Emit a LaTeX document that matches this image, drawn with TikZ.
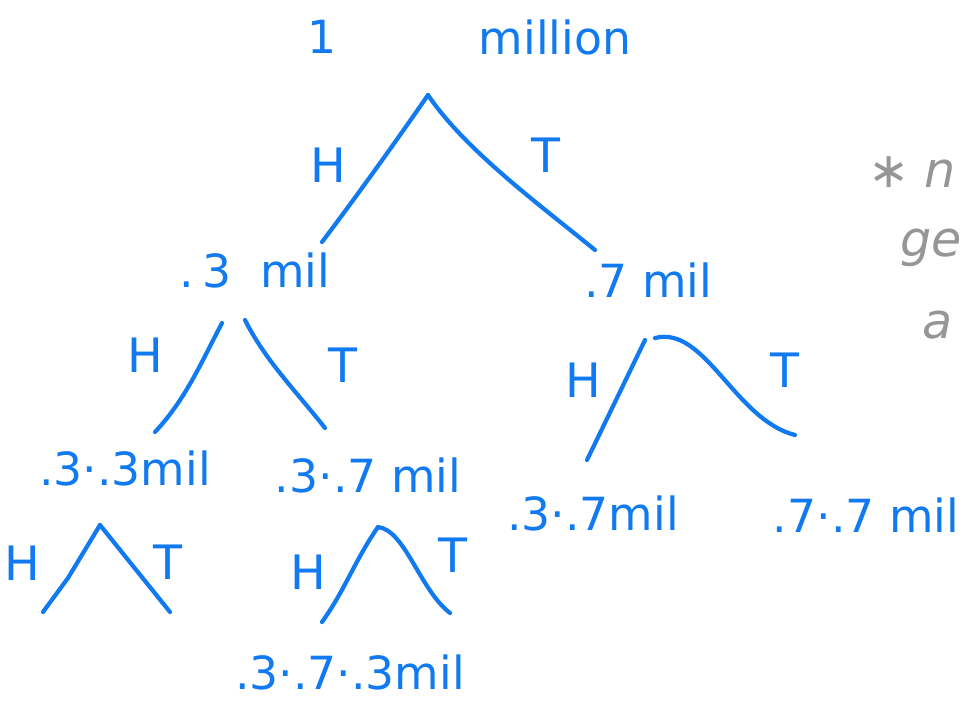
\documentclass[tikz,border=0pt]{standalone}
\usepackage{fontspec}
\setmainfont{DejaVu Sans}
\usepackage{tikz}
\usetikzlibrary{positioning}
\definecolor{inkblue}{RGB}{18,122,240}
\definecolor{inkgray}{RGB}{150,150,150}
\tikzset{
  every node/.style = {inner sep=1pt},
  amount/.style     = {text=inkblue, font=\fontsize{26}{28}\selectfont},
  side/.style       = {text=inkblue, font=\fontsize{27}{29}\selectfont},
  note/.style       = {text=inkgray, font=\fontsize{28}{30}\itshape\selectfont, anchor=west},
  branch/.style     = {draw=inkblue, line width=2.4pt, line cap=round, line join=round}
}
\begin{document}
\begin{tikzpicture}[x=0.02cm, y=-0.02cm]
  \useasboundingbox (0,0) rectangle (963,700);

  % amounts at each level
  \node[amount] (one)  at (322,37)  {1};
  \node[amount] (mln)  at (555,37)  {million};
  \node[amount] (a3)   at (255,270) {.\,3\ \ mil};
  \node[amount] (a7)   at (648,280) {.7\ mil};
  \node[amount] (a33)  at (125,468) {.3·.3mil};
  \node[amount] (a37)  at (368,475) {.3·.7 mil};
  \node[amount] (b37)  at (593,513) {.3·.7mil};
  \node[amount] (a77)  at (866,515) {.7·.7 mil};
  \node[amount] (a373) at (350,672) {.3·.7·.3mil};

  % branch points
  \coordinate (r0)  at (428,95);
  \coordinate (rH)  at (322,242);
  \coordinate (rT)  at (595,250);
  \coordinate (p3H) at (222,323);
  \coordinate (p3T) at (245,320);
  \coordinate (e3H) at (155,432);
  \coordinate (e3T) at (325,428);
  \coordinate (p7H) at (645,340);
  \coordinate (p7T) at (655,338);
  \coordinate (e7H) at (587,460);
  \coordinate (e7T) at (795,435);
  \coordinate (p33) at (100,525);
  \coordinate (e33H) at (43,612);
  \coordinate (e33T) at (170,612);
  \coordinate (p37) at (378,527);
  \coordinate (e37H) at (322,622);
  \coordinate (e37T) at (450,613);

  \draw[branch] (r0) .. controls (390,150) and (350,205) .. (rH);
  \draw[branch] (r0) .. controls (465,150) and (540,205) .. (rT);
  \draw[branch] (p3H) .. controls (200,365) and (185,400) .. (e3H);
  \draw[branch] (p3T) .. controls (265,360) and (295,390) .. (e3T);
  \draw[branch] (p7H) -- (e7H);
  \draw[branch] (p7T) .. controls (705,325) and (735,420) .. (e7T);
  \draw[branch] (p33) -- (68,578) -- (e33H);
  \draw[branch] (p33) -- (e33T);
  \draw[branch] (p37) .. controls (355,560) and (345,590) .. (e37H);
  \draw[branch] (p37) .. controls (405,530) and (420,590) .. (e37T);

  % heads / tails
  \node[side] (h0)  at (328,165) {H};
  \node[side] (t0)  at (546,155) {T};
  \node[side] (h3)  at (145,355) {H};
  \node[side] (t3)  at (343,365) {T};
  \node[side] (h7)  at (583,380) {H};
  \node[side] (t7)  at (785,370) {T};
  \node[side] (h33) at (22,563)  {H};
  \node[side] (t33) at (168,562) {T};
  \node[side] (h37) at (308,572) {H};
  \node[side] (t37) at (453,555) {T};

  % side note at the right edge
  \node[note] (nt1) at (866,172) {∗ n};
  \node[note] (nt2) at (898,248) {ge};
  \node[note] (nt3) at (920,325) {a};
\end{tikzpicture}
\end{document}
